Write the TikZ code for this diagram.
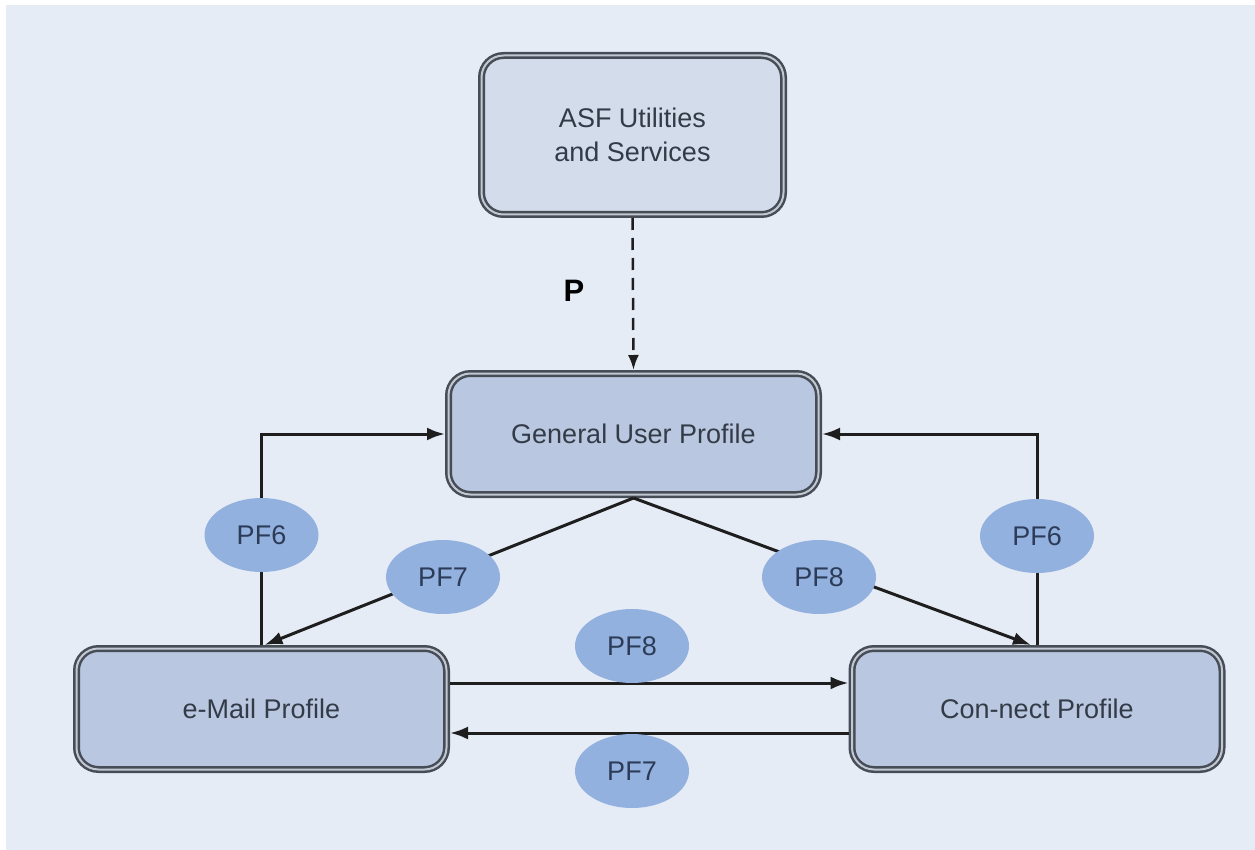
\documentclass[tikz,border=0pt]{standalone}
\usepackage{fontspec}
\setmainfont{Liberation Sans}
\usetikzlibrary{arrows.meta,shapes.geometric}
\definecolor{bgc}{HTML}{E6ECF6}
\definecolor{boxlight}{HTML}{D2DCEA}
\definecolor{boxfill}{HTML}{B9C8E0}
\definecolor{bordc}{HTML}{474D57}
\definecolor{gapc}{HTML}{C2C8D2}
\definecolor{ellc}{HTML}{93B1DE}
\definecolor{txtc}{HTML}{333B48}
\definecolor{elltxt}{HTML}{2C3C58}
\definecolor{linec}{HTML}{1E1E1E}
\tikzset{
  profbox/.style={rounded corners=22pt, draw=bordc, line width=2.5pt, double=gapc, double distance=2pt,
    fill=boxfill, text=txtc, inner sep=0pt, outer sep=3.5pt, align=center,
    font=\fontsize{27}{34}\selectfont},
  pfell/.style={ellipse, fill=ellc, text=elltxt, minimum width=114pt, minimum height=74pt, inner sep=0pt,
    font=\fontsize{27}{30}\selectfont},
  conn/.style={draw=linec, line width=3pt, -{Latex[length=18pt,width=13pt]}},
}
\begin{document}
\begin{tikzpicture}[x=1pt,y=-1pt]
\useasboundingbox (0,0) rectangle (1255,850);
\fill[white] (0,0) rectangle (1255,850);
\fill[bgc] (6,5) rectangle (1255,850);

\node[profbox, fill=boxlight, minimum width=302pt, minimum height=159pt] (asf) at (632.5,135) {ASF Utilities\\and Services};
\node[profbox, minimum width=370pt, minimum height=121pt] (gup) at (633.5,434) {General User Profile};
\node[profbox, minimum width=370pt, minimum height=121pt] (email) at (261.5,709) {e-Mail Profile};
\node[profbox, minimum width=370pt, minimum height=121pt] (connect) at (1037,709) {Con-nect Profile};

\draw[draw=linec, line width=2.5pt, dash pattern=on 12pt off 8pt, -{Latex[length=15pt,width=11pt]}] (asf.south) -- (gup.north);
\node[font=\bfseries\fontsize{31}{34}\selectfont, text=black] (plabel) at (574,291) {P};

\draw[conn] (email.north) |- (gup.west);
\draw[conn] (connect.north) |- (gup.east);
\draw[conn] (gup.south) -- ([xshift=3pt]email.north);
\draw[conn] (gup.south) -- ([xshift=-6pt]connect.north);
\draw[conn] ([yshift=26pt]email.east) -- ([yshift=26pt]connect.west);
\draw[conn] ([yshift=-24pt]connect.west) -- ([yshift=-24pt]email.east);

\node[pfell] (pf6l) at (261.5,535) {PF6};
\node[pfell] (pf7d) at (443,577) {PF7};
\node[pfell] (pf8d) at (819,577) {PF8};
\node[pfell] (pf6r) at (1037,536) {PF6};
\node[pfell] (pf8m) at (632,646) {PF8};
\node[pfell] (pf7m) at (632,771) {PF7};
\end{tikzpicture}
\end{document}
